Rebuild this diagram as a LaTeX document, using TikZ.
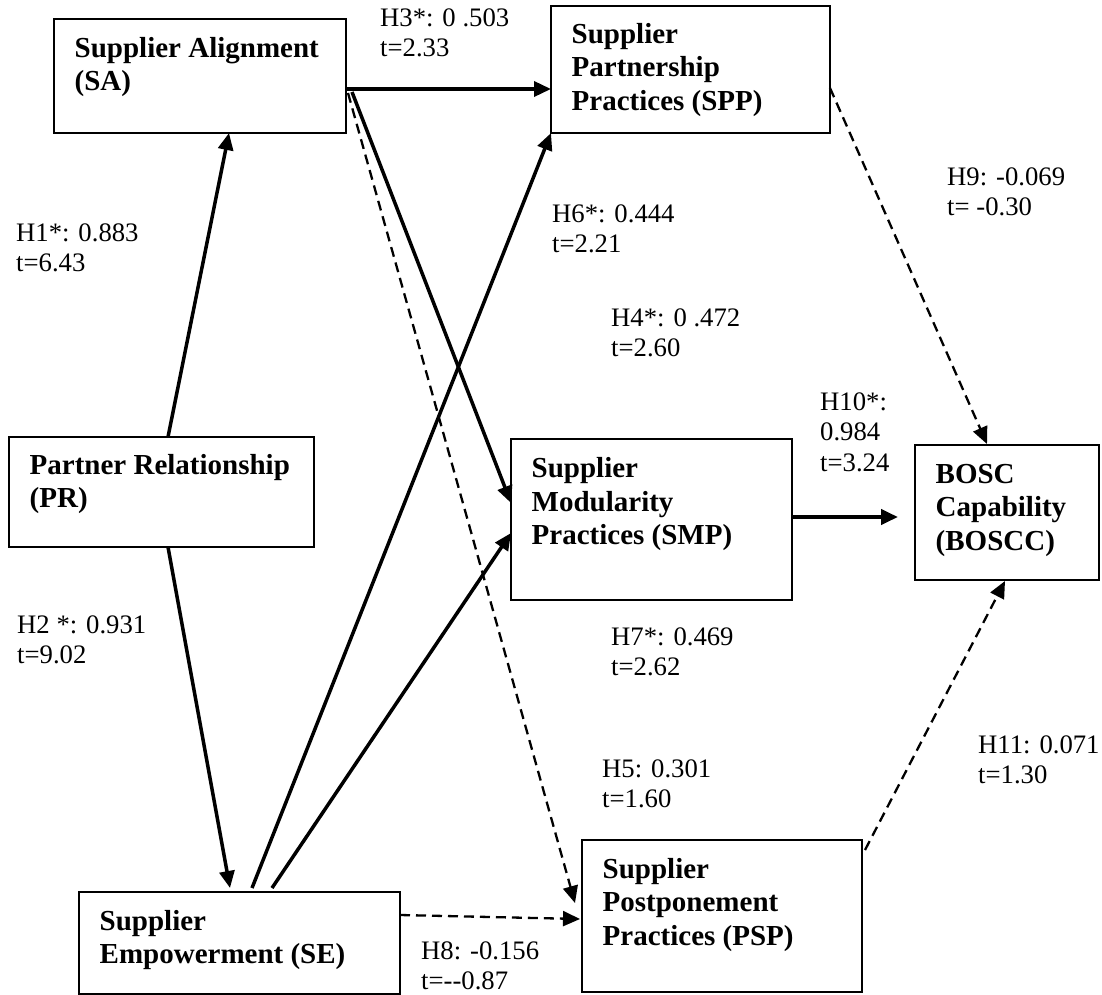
\documentclass[tikz,border=0pt]{standalone}
\usepackage{fontspec}
\setmainfont{Liberation Serif}
\usetikzlibrary{arrows.meta,calc}
\begin{document}
\begin{tikzpicture}[x=1pt,y=-1pt,
  box/.style={draw, line width=2pt, anchor=north west, inner sep=0pt, outer sep=0pt},
  boxtext/.style={anchor=north west, inner sep=0pt, align=left,
    font=\fontsize{29}{33.5}\selectfont\bfseries},
  lbl/.style={anchor=north west, inner sep=0pt, align=left,
    font=\fontsize{26.7}{30.7}\selectfont},
  tip/.style={-{Triangle[length=17pt,width=15pt]}},
  solidarrow/.style={tip, line width=3.5pt},
  dasharrow/.style={tip, line width=2.3pt, dash pattern=on 10pt off 6pt},
]
% canvas
\fill[white] (0,0) rectangle (1102,995);
\useasboundingbox (0,0) rectangle (1102,995);

% construct boxes
\node[box, minimum width=292pt, minimum height=114pt] (SA)    at (54,19)   {};
\node[box, minimum width=279pt, minimum height=127pt] (SPP)   at (551,6)   {};
\node[box, minimum width=305pt, minimum height=110pt] (PR)    at (9,437)   {};
\node[box, minimum width=281pt, minimum height=161pt] (SMP)   at (511,439) {};
\node[box, minimum width=184pt, minimum height=135pt] (BOSCC) at (915,445) {};
\node[box, minimum width=321pt, minimum height=102pt] (SE)    at (79,892)  {};
\node[box, minimum width=280pt, minimum height=152pt] (PSP)   at (582,840) {};

% construct names
\node[boxtext] (SAt)    at ($(SA.north west)+(20.5,14.5)$)    {\strut Supplier Alignment\\(SA)};
\node[boxtext] (SPPt)   at ($(SPP.north west)+(20.5,13.5)$)   {\strut Supplier\\Partnership\\Practices (SPP)};
\node[boxtext] (PRt)    at ($(PR.north west)+(20.5,13.5)$)    {\strut Partner Relationship\\(PR)};
\node[boxtext] (SMPt)   at ($(SMP.north west)+(20.5,15)$)     {\strut Supplier\\Modularity\\Practices (SMP)};
\node[boxtext] (BOSCCt) at ($(BOSCC.north west)+(20.5,14.5)$) {\strut BOSC\\Capability\\(BOSCC)};
\node[boxtext] (SEt)    at ($(SE.north west)+(20.5,14.5)$)    {\strut Supplier\\Empowerment (SE)};
\node[boxtext] (PSPt)   at ($(PSP.north west)+(20.5,14.5)$)   {\strut Supplier\\Postponement\\Practices (PSP)};

% hypothesised paths
\draw[solidarrow] ([xshift=159pt]PR.north west) -- ([xshift=175pt]SA.south west);
\draw[solidarrow] ([xshift=159pt]PR.south west) -- ([xshift=151pt,yshift=4pt]SE.north west);
\draw[solidarrow] ([yshift=-70pt]SA.north east) -- ([yshift=-83pt]SPP.north west);
\draw[solidarrow] ([xshift=6pt,yshift=-73pt]SA.north east) -- ([yshift=-64pt]SMP.north west);
\draw[dasharrow]  ([xshift=2pt,yshift=-74pt]SA.north east) -- ([xshift=-7pt,yshift=-63pt]PSP.north west);
\draw[solidarrow] ([xshift=173pt,yshift=4pt]SE.north west) -- (SPP.south west);
\draw[solidarrow] ([xshift=193pt,yshift=4pt]SE.north west) -- ([yshift=-94pt]SMP.north west);
\draw[dasharrow]  ([yshift=-23pt]SE.north east) -- ([xshift=-2pt,yshift=-79pt]PSP.north west);
\draw[dasharrow]  ([yshift=-82pt]SPP.north east) -- ([xshift=72pt,yshift=1pt]BOSCC.north west);
\draw[solidarrow, line width=4pt] ([yshift=-78pt]SMP.north east) -- ([xshift=-17pt,yshift=-72pt]BOSCC.north west);
\draw[dasharrow]  ([xshift=3pt,yshift=-10pt]PSP.north east) -- ([xshift=90pt,yshift=-1pt]BOSCC.south west);

% path coefficients
\node[lbl] (L3)  at (380,4.5)   {\strut H3*: 0 .503\\t=2.33};
\node[lbl] (L1)  at (16,219.5)  {\strut H1*: 0.883\\t=6.43};
\node[lbl] (L6)  at (552,200.5) {\strut H6*: 0.444\\t=2.21};
\node[lbl] (L4)  at (611,304.5) {\strut H4*: 0 .472\\t=2.60};
\node[lbl] (L9)  at (947,163.5) {\strut H9: -0.069\\t= -0.30};
\node[lbl] (L10) at (820,388.5) {\strut H10*:\\0.984\\t=3.24};
\node[lbl] (L2)  at (17,611.5)  {\strut H2 *: 0.931\\t=9.02};
\node[lbl] (L7)  at (611,623.5) {\strut H7*: 0.469\\t=2.62};
\node[lbl] (L5)  at (602,755.5) {\strut H5: 0.301\\t=1.60};
\node[lbl] (L11) at (978,731.5) {\strut H11: 0.071\\t=1.30};
\node[lbl] (L8)  at (421,937.5) {\strut H8: -0.156\\t=-{}-0.87};
\end{tikzpicture}
\end{document}
